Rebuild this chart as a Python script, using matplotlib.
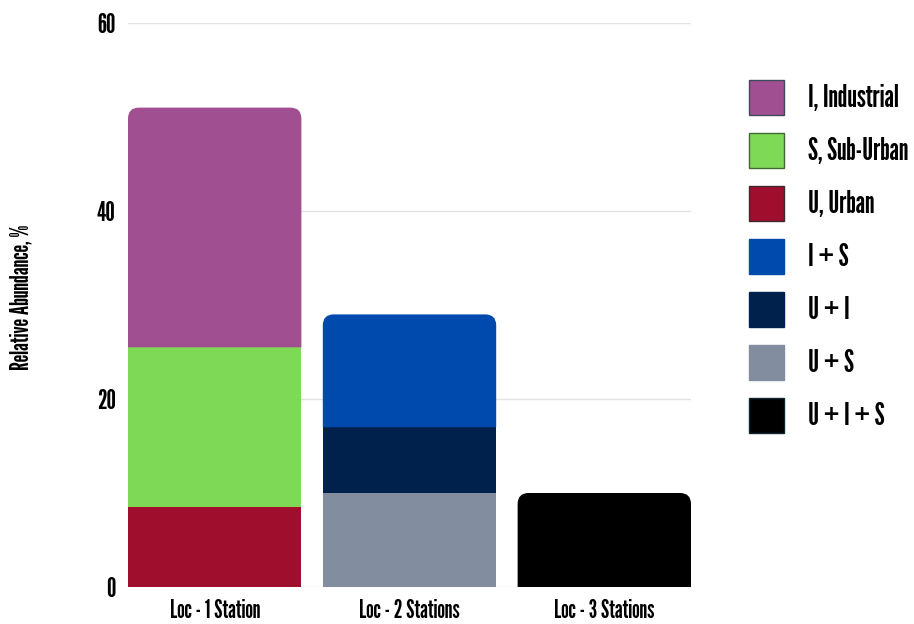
import matplotlib
matplotlib.use("Agg")
import matplotlib.pyplot as plt
from matplotlib.patches import Patch, PathPatch
from matplotlib.path import Path
from matplotlib import font_manager

# Data
categories = ["Loc - 1 Station", "Loc - 2 Stations", "Loc - 3 Stations"]
series_names = ["I, Industrial", "S, Sub-Urban", "U, Urban", "I + S", "U + I", "U + S", "U + I + S"]
colors = ["#A05090", "#7ED957", "#A00E2E", "#004AAD", "#00214C", "#828D9F", "#000000"]
edge_colors = ["#3E4A5E", "#3E6A2E", "#3E2A2E", "#004AAD", "#00214C", "#828D9F", "#0E2A2E"]

# stacks: (series index, value) from bottom to top per category
stack_loc1 = [(2, 8.5), (1, 17.0), (0, 25.5)]
stack_loc2 = [(5, 10.0), (4, 7.0), (3, 12.0)]
stack_loc3 = [(6, 10.0)]
stacks = [stack_loc1, stack_loc2, stack_loc3]

yticks = [0, 20, 40, 60]

avail = {f.name for f in font_manager.fontManager.ttflist}
pref = ["League Gothic", "Oswald", "Fjalla One", "Antonio", "Roboto Condensed"]
family = [f for f in pref if f in avail][:1] + ["DejaVu Sans"]
plt.rcParams["font.family"] = family

W, H = 914, 624
fig = plt.figure(figsize=(W / 100, H / 100), dpi=100)
ax = fig.add_axes([128 / W, 1 - 587 / H, (691 - 128) / W, (587 - 23) / H])

bar_w = 0.89
ax.set_xlim(-bar_w / 2, len(categories) - 1 + bar_w / 2)
ax.set_ylim(0, 60)

# pixel scale for rounded top corners
px_x = ax.get_position().width * W / (ax.get_xlim()[1] - ax.get_xlim()[0])
px_y = ax.get_position().height * H / 60.0
r_px = 11
rx, ry = r_px / px_x, r_px / px_y


def rounded_top(x0, x1, y0, y1):
    verts = [(x0, y0), (x0, y1 - ry), (x0, y1), (x0 + rx, y1),
             (x1 - rx, y1), (x1, y1), (x1, y1 - ry), (x1, y0), (x0, y0)]
    codes = [Path.MOVETO, Path.LINETO, Path.CURVE3, Path.CURVE3,
             Path.LINETO, Path.CURVE3, Path.CURVE3, Path.LINETO, Path.CLOSEPOLY]
    return Path(verts, codes)


for i, stack in enumerate(stacks):
    bottom = 0.0
    for j, (si, val) in enumerate(stack):
        if j < len(stack) - 1:
            ax.bar(i, val, bottom=bottom, width=bar_w, color=colors[si],
                   linewidth=0, zorder=2)
        else:
            p = rounded_top(i - bar_w / 2, i + bar_w / 2, bottom, bottom + val)
            ax.add_patch(PathPatch(p, facecolor=colors[si], linewidth=0, zorder=2))
        bottom += val

ax.set_yticks(yticks)
ax.set_yticklabels([str(t) for t in yticks], fontsize=19)
ax.set_xticks(range(len(categories)))
ax.set_xticklabels(categories, fontsize=17.5)
ax.tick_params(axis="both", length=0)
ax.tick_params(axis="y", pad=9)
ax.tick_params(axis="x", pad=9)
ax.grid(axis="y", color="#E2E2E2", linewidth=1, zorder=0)
ax.set_axisbelow(True)
for s in ax.spines.values():
    s.set_visible(False)

fig.text(22 / W, 1 - 297 / H, "Relative Abundance, %", rotation=90,
         ha="center", va="center", fontsize=17.5)

# legend geometry: 35 px squares, 18 px gaps between rows
handles = [Patch(facecolor=c, edgecolor=e, linewidth=1) for c, e in zip(colors, edge_colors)]
fs = 21.5
fs_px = fs * 100 / 72
box_px = 35
hh = (box_px / fs_px - 0.245) / 0.65
leg = fig.legend(handles, series_names, loc="upper left",
                 bbox_to_anchor=(749 / W, 1 - 80 / H), bbox_transform=fig.transFigure,
                 frameon=False, fontsize=fs, handlelength=box_px / fs_px,
                 handleheight=hh, labelspacing=18 / fs_px,
                 handletextpad=24 / fs_px, borderpad=0, borderaxespad=0)

fig.savefig("out.png", dpi=100)
